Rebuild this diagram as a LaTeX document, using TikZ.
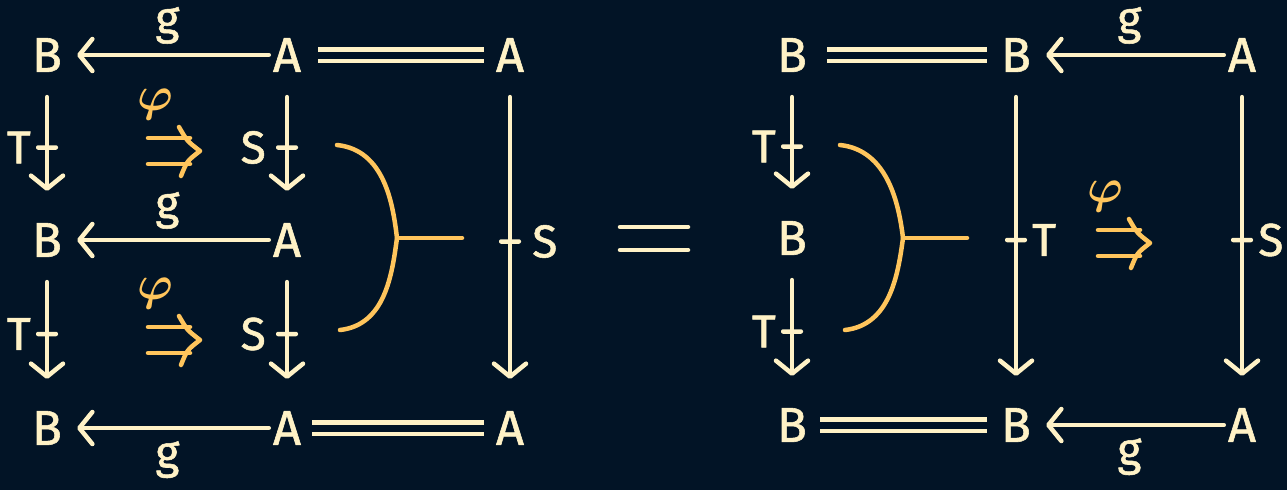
\documentclass[tikz,border=0pt]{standalone}
\usepackage{fontspec}
\usepackage{amsmath}
\setmainfont{Fira Sans}
\newfontfamily\handfont{Fira Sans}[FakeBold=1.2]
\usetikzlibrary{arrows.meta}
\definecolor{bg}{HTML}{021426}
\definecolor{cream}{HTML}{FFF2C6}
\definecolor{amber}{HTML}{FFC55C}
\tikzset{
  obj/.style={text=cream, inner sep=0pt, font=\handfont\fontsize{49}{51}\selectfont},
  lbl/.style={text=cream, inner sep=0pt, font=\handfont\fontsize{46}{48}\selectfont},
  philbl/.style={text=amber, inner sep=0pt},
  arr/.style={draw=cream, line width=4.5pt, line cap=round,
    -{Straight Barb[length=13pt,width=32pt,line cap=round,line join=round]}},
  harr/.style={arr, shorten <=4pt, shorten >=15pt},
  varr/.style={arr, shorten <=25pt, shorten >=32pt},
  eqline/.style={draw=cream, line width=4.5pt, double=bg, double distance=7pt, line cap=butt},
  tick/.style={fill=cream, shape=rectangle, rounded corners=2pt, minimum width=22pt, minimum height=4.5pt, inner sep=0pt},
  brace/.style={draw=amber, line width=4.5pt, line cap=round, line join=round},
  twocell/.pic={
    \draw[brace] (-27,-13) -- (15,-13);
    \draw[brace] (-27,13) -- (15,13);
    \draw[brace] (4,-24) .. controls (12,-10) .. (25,0) .. controls (12,10) .. (6,25);
    \node[philbl] (-phi) at (-20,-47) {\scalebox{4.8}{$\boldsymbol{\varphi}$}};
  }
}
\begin{document}
\begin{tikzpicture}[x=1pt,y=-1pt]
\fill[bg] (0,0) rectangle (1287,490);
\useasboundingbox (0,0) rectangle (1287,490);

% ---------- left diagram ----------
\node[obj] (B1) at (47,55) {B};
\node[obj] (A1) at (287,55) {A};
\node[obj] (A2) at (510,55) {A};
\node[obj] (B2) at (47,240) {B};
\node[obj] (A3) at (287,240) {A};
\node[obj] (B3) at (47,428) {B};
\node[obj] (A4) at (287,428) {A};
\node[obj] (A5) at (510,428) {A};

\draw[harr] (A1) -- node[lbl, above=9pt] {g} (B1);
\draw[harr] (A3) -- node[lbl, above=9pt] {g} (B2);
\draw[harr] (A4) -- node[lbl, below=11pt] {g} (B3);
\draw[eqline, shorten <=17pt, shorten >=12pt] (A1) -- (A2);
\draw[eqline, shorten <=11pt, shorten >=12pt] (A4) -- (A5);

\draw[varr] (B1) -- node[tick] {} node[lbl, left=14pt] {T} (B2);
\draw[varr] (B2) -- node[tick] {} node[lbl, left=14pt] {T} (B3);
\draw[varr] (A1) -- node[tick] {} node[lbl, left=19pt] {S} (A3);
\draw[varr] (A3) -- node[tick] {} node[lbl, left=19pt] {S} (A4);
\draw[varr] (A2) -- node[tick] {} node[lbl, right=20pt] {S} (A5);

\pic (c1) at (175,151) {twocell};
\pic (c2) at (175,340) {twocell};

\draw[brace] (337,145) .. controls (385,150) and (393,205) .. (397,238)
  .. controls (392,275) and (385,325) .. (340,330);
\draw[brace] (397,238) -- (462,238);

% ---------- equals ----------
\draw[cream, line width=4.5pt, line cap=round] (620,227) -- (688,227);
\draw[cream, line width=4.5pt, line cap=round] (620,250) -- (688,250);

% ---------- right diagram ----------
\node[obj] (B4) at (792,55) {B};
\node[obj] (B5) at (1016,55) {B};
\node[obj] (A6) at (1242,55) {A};
\node[obj] (B6) at (792,238) {B};
\node[obj] (B7) at (792,425) {B};
\node[obj] (B8) at (1016,425) {B};
\node[obj] (A7) at (1242,425) {A};

\draw[eqline, shorten <=20pt, shorten >=14pt] (B4) -- (B5);
\draw[eqline, shorten <=13pt, shorten >=14pt] (B7) -- (B8);
\draw[harr] (A6) -- node[lbl, above=9pt] {g} (B5);
\draw[harr] (A7) -- node[lbl, below=11pt] {g} (B8);

\draw[varr] (B4) -- node[tick] {} node[lbl, left=14pt] {T} (B6);
\draw[varr] (B6) -- node[tick] {} node[lbl, left=14pt] {T} (B7);
\draw[varr] (B5) -- node[tick] {} node[lbl, right=14pt] {T} (B8);
\draw[varr] (A6) -- node[tick] {} node[lbl, right=14pt] {S} (A7);

\pic (c3) at (1125,243) {twocell};

\draw[brace] (840,145) .. controls (888,150) and (899,205) .. (903,238)
  .. controls (898,275) and (890,325) .. (845,330);
\draw[brace] (903,238) -- (967,238);
\end{tikzpicture}
\end{document}
